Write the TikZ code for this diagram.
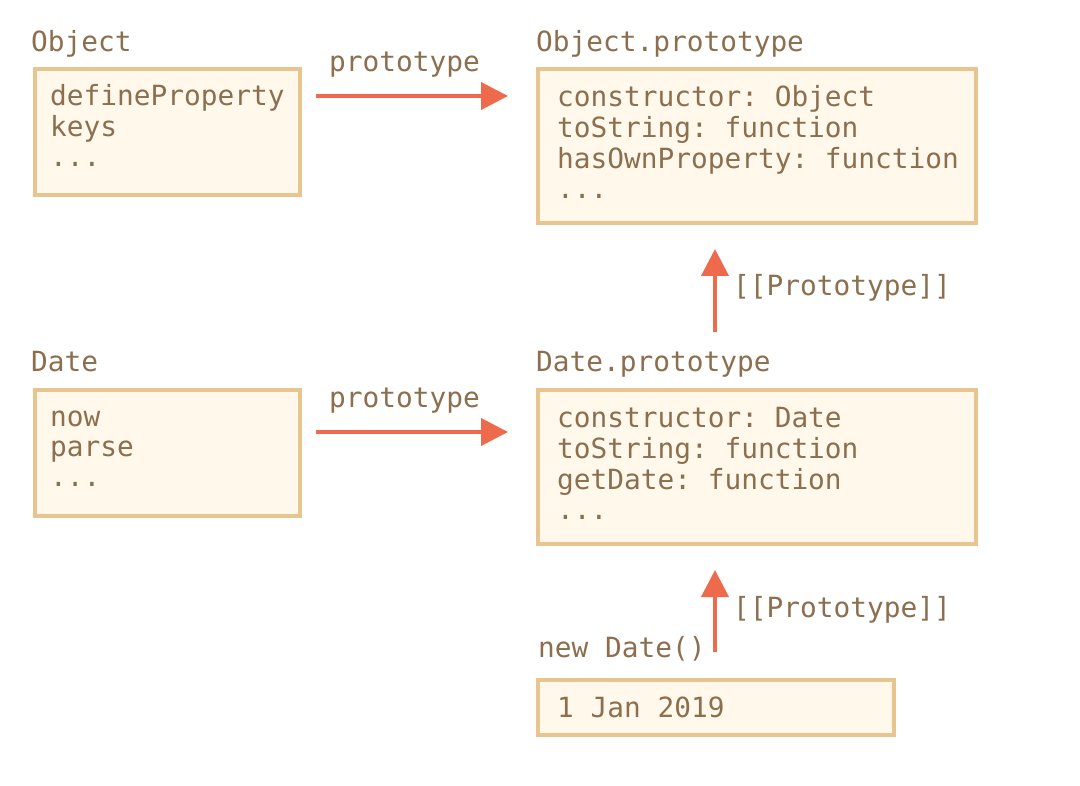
\documentclass[tikz,border=0pt]{standalone}
\usepackage{fontspec}
\setmonofont{DejaVu Sans Mono}
\usetikzlibrary{arrows.meta}
\definecolor{boxfill}{HTML}{FFF8EB}
\definecolor{boxline}{HTML}{E8C48F}
\definecolor{txt}{HTML}{8B6F4E}
\definecolor{arr}{HTML}{EE6A4C}
\begin{document}
\begin{tikzpicture}[x=1pt,y=-1pt,
  box/.style={draw=boxline, fill=boxfill, line width=3.5pt, inner sep=0pt, outer sep=0pt, anchor=north west},
  lbl/.style={text=txt, font=\ttfamily\fontsize{27.8}{30}\selectfont, inner sep=0pt, anchor=base west},
  body/.style={lbl, anchor=north west, align=left},
  link/.style={draw=arr, line width=4pt, -{Triangle[length=27pt,width=27pt]}}]
\useasboundingbox[fill=white] (0,0) rectangle (1080,786);
% boxes
\node[box, minimum width=265pt, minimum height=126pt] (objbox) at (35,69) {};
\node[box, minimum width=438pt, minimum height=154pt] (objproto) at (538,69) {};
\node[box, minimum width=265pt, minimum height=126pt] (datebox) at (35,390) {};
\node[box, minimum width=438pt, minimum height=154pt] (dateproto) at (538,390) {};
\node[box, minimum width=356pt, minimum height=55pt] (inst) at (538,680) {};
% titles
\node[lbl] (objtitle) at (31,52) {Object};
\node[lbl] (objprototitle) at (536,52) {Object.prototype};
\node[lbl] (datetitle) at (31,372) {Date};
\node[lbl] (dateprototitle) at (536,372) {Date.prototype};
\node[lbl] (newdate) at (538,657) {new Date()};
% bodies
\node[body] (objtxt) at (50,84) {\strut defineProperty\\\strut keys\\\strut ...};
\node[body] (objprototxt) at (557,85) {\strut constructor: Object\\\strut toString: function\\\strut hasOwnProperty: function\\\strut ...};
\node[body] (datetxt) at (50,405) {\strut now\\\strut parse\\\strut ...};
\node[body] (dateprototxt) at (557,406) {\strut constructor: Date\\\strut toString: function\\\strut getDate: function\\\strut ...};
\node[lbl] (insttxt) at (557,717) {1 Jan 2019};
% arrow labels
\node[lbl] (l1) at (329,72) {prototype};
\node[lbl] (l2) at (329,408) {prototype};
\node[lbl] (l3) at (733,296) {[[Prototype]]};
\node[lbl] (l4) at (733,617) {[[Prototype]]};
% arrow ends
\coordinate (a1s) at (316,96);
\coordinate (a1e) at (508,96);
\coordinate (a2s) at (316,432);
\coordinate (a2e) at (508,432);
\coordinate (a3s) at (715,332);
\coordinate (a3e) at (715,249);
\coordinate (a4s) at (715,652);
\coordinate (a4e) at (715,570);
\draw[link] (a1s) -- (a1e);
\draw[link] (a2s) -- (a2e);
\draw[link] (a3s) -- (a3e);
\draw[link] (a4s) -- (a4e);
\end{tikzpicture}
\end{document}
